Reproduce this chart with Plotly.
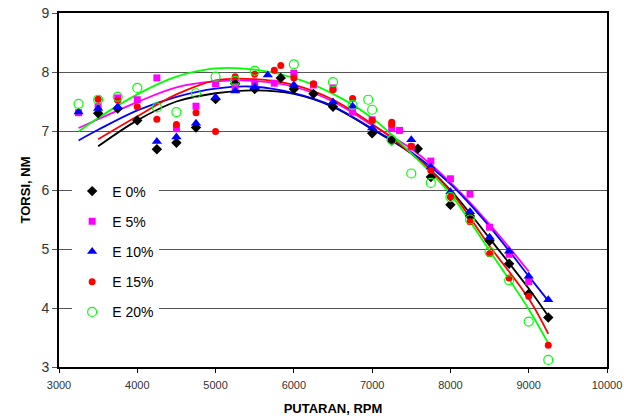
import plotly.graph_objects as go

series_names = ["E 0%", "E 5%", "E 10%", "E 15%", "E 20%"]

# measured points
x_e0 = [3500, 3750, 4000, 4250, 4500, 4750, 5000, 5250, 5500, 5833, 6000, 6250, 6500, 7000, 7250, 7583, 7750, 8000, 8250, 8500, 8750, 9000, 9250]
y_e0 = [7.30, 7.38, 7.18, 6.69, 6.80, 7.06, 7.54, 7.80, 7.71, 7.90, 7.71, 7.63, 7.41, 6.96, 6.84, 6.70, 6.22, 5.75, 5.56, 5.14, 4.75, 4.24, 3.84]

x_e5 = [3250, 3500, 3750, 4000, 4250, 4500, 4750, 5000, 5250, 5500, 5750, 6000, 6250, 6500, 6750, 7000, 7250, 7350, 7500, 7750, 8000, 8250, 8500, 8750, 9000]
y_e5 = [7.31, 7.42, 7.56, 7.53, 7.90, 7.04, 7.42, 7.80, 7.75, 7.80, 7.81, 7.98, 7.78, 7.73, 7.32, 7.19, 7.04, 7.01, 6.73, 6.49, 6.19, 5.93, 5.37, 4.91, 4.45]

x_e10 = [3250, 3500, 3750, 4250, 4500, 4750, 5000, 5250, 5500, 5667, 6000, 6500, 6750, 7000, 7500, 7750, 8000, 8250, 8500, 8750, 9000, 9250]
y_e10 = [7.32, 7.38, 7.41, 6.82, 6.90, 7.13, 7.57, 7.68, 7.75, 7.95, 7.78, 7.49, 7.42, 7.05, 6.85, 6.39, 5.97, 5.63, 5.20, 4.96, 4.54, 4.14]

x_e15 = [3500, 3750, 4000, 4250, 4500, 4750, 5000, 5250, 5500, 5750, 5833, 6000, 6250, 6500, 6750, 7000, 7250, 7250, 7500, 7750, 8000, 8250, 8500, 8750, 9000, 9250]
y_e15 = [7.54, 7.52, 7.41, 7.20, 7.11, 7.31, 6.99, 7.92, 7.96, 8.03, 8.11, 7.90, 7.80, 7.70, 7.55, 7.18, 7.15, 7.11, 6.74, 6.33, 5.88, 5.46, 4.92, 4.51, 4.20, 3.37]

x_e20 = [3250, 3500, 3750, 4000, 4250, 4500, 4750, 5000, 5250, 5500, 6000, 6500, 6750, 6950, 7000, 7250, 7500, 7750, 8000, 8250, 8500, 8750, 9000, 9250]
y_e20 = [7.46, 7.53, 7.58, 7.73, 7.40, 7.32, 7.64, 7.92, 7.85, 8.02, 8.13, 7.83, 7.44, 7.53, 7.36, 6.85, 6.28, 6.12, 5.88, 5.50, 4.95, 4.47, 3.77, 3.12]

# trendlines
tx_e0 = [3500, 4000, 4500, 5000, 5500, 6000, 6500, 7000, 7500, 8000, 8500, 9000, 9250]
ty_e0 = [6.74, 7.18, 7.50, 7.64, 7.69, 7.63, 7.41, 7.03, 6.62, 6.00, 5.18, 4.33, 3.86]

tx_e5 = [3250, 3500, 4000, 4500, 5000, 5500, 6000, 6500, 7000, 7500, 8000, 8500, 9000]
ty_e5 = [7.05, 7.20, 7.49, 7.74, 7.84, 7.85, 7.75, 7.50, 7.10, 6.70, 6.13, 5.42, 4.62]

tx_e10 = [3250, 3500, 4000, 4500, 5000, 5500, 6000, 6500, 7000, 7500, 8000, 8500, 9000, 9250]
ty_e10 = [6.84, 7.02, 7.35, 7.58, 7.72, 7.75, 7.64, 7.42, 7.04, 6.64, 6.10, 5.38, 4.54, 4.12]

tx_e15 = [3500, 4000, 4500, 5000, 5500, 6000, 6500, 7000, 7500, 8000, 8500, 9000, 9250]
ty_e15 = [6.86, 7.25, 7.62, 7.86, 7.88, 7.78, 7.53, 7.12, 6.62, 5.98, 5.05, 4.16, 3.56]

tx_e20 = [3250, 3500, 4000, 4500, 5000, 5500, 6000, 6500, 7000, 7500, 8000, 8500, 9000, 9250]
ty_e20 = [6.99, 7.22, 7.62, 7.92, 8.06, 8.04, 7.90, 7.63, 7.22, 6.62, 5.93, 4.97, 3.98, 3.40]

x_ticks = [3000, 4000, 5000, 6000, 7000, 8000, 9000, 10000]
x_tick_labels = ["3000", "4000", "5000", "6000", "7000", "8000", "9000", "10000"]
y_ticks = [3, 4, 5, 6, 7, 8, 9]

xs = [x_e0, x_e5, x_e10, x_e15, x_e20]
ys = [y_e0, y_e5, y_e10, y_e15, y_e20]
txs = [tx_e0, tx_e5, tx_e10, tx_e15, tx_e20]
tys = [ty_e0, ty_e5, ty_e10, ty_e15, ty_e20]
colors = ["#000000", "#FF00FF", "#0000FF", "#FF0000", "#00FF00"]
markers = [
    dict(symbol="diamond", size=8, color="#000000"),
    dict(symbol="square", size=7, color="#FF00FF"),
    dict(symbol="triangle-up", size=9, color="#0000FF"),
    dict(symbol="circle", size=7, color="#FF0000"),
    dict(symbol="circle-open", size=9, color="#00FF00", line=dict(width=1.2, color="#00FF00")),
]

fig = go.Figure()

for tx, ty, c in zip(txs, tys, colors):
    fig.add_trace(go.Scatter(x=tx, y=ty, mode="lines",
                             line=dict(color=c, width=1.8, shape="spline", smoothing=1),
                             showlegend=False, hoverinfo="skip"))

for i, (name, x, y, m) in enumerate(zip(series_names, xs, ys, markers)):
    fig.add_trace(go.Scatter(x=x, y=y, mode="markers", name=name, marker=m,
                             legendgroup=f"g{i}"))

fig.update_layout(
    width=624, height=419,
    margin=dict(l=59, r=17, t=13, b=52),
    paper_bgcolor="white", plot_bgcolor="white",
    font=dict(family="Liberation Sans, Arial, sans-serif", color="#000000"),
    showlegend=True,
    legend=dict(x=0.024, y=0.541, xanchor="left", yanchor="top",
                bgcolor="white", borderwidth=0, itemwidth=30,
                font=dict(size=14, color="#000000"),
                traceorder="grouped", tracegroupgap=9),
    xaxis=dict(range=[3000, 10000], tickvals=x_ticks, ticktext=x_tick_labels,
               showgrid=False,
               showline=True, linecolor="#000000", linewidth=2, mirror=True,
               ticks="outside", ticklen=4, tickcolor="#000000",
               ticklabelstandoff=3,
               tickfont=dict(size=11, color="#333333"),
               title=dict(text="<b>PUTARAN, RPM</b>", font=dict(size=13), standoff=14),
               zeroline=False, automargin=False),
    yaxis=dict(range=[3, 9], tickvals=y_ticks, showgrid=True,
               gridcolor="#555555", gridwidth=1,
               showline=True, linecolor="#000000", linewidth=2, mirror=True,
               ticks="outside", ticklen=5, tickcolor="#555555",
               tickfont=dict(size=14, color="#333333"),
               title=dict(text="<b>TORSI, NM</b>", font=dict(size=13), standoff=8),
               zeroline=False, automargin=False),
)

fig.write_html("out.html", config={"displayModeBar": False},
               post_script="document.body.style.margin='0';")
